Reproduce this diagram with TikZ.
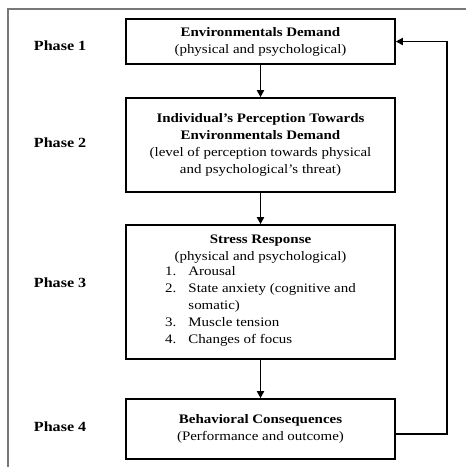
\documentclass[tikz,border=0pt]{standalone}
\usepackage{fontspec}
\setmainfont{Liberation Serif}[FakeStretch=1.15]
\usetikzlibrary{arrows.meta}

\begin{document}
\begin{tikzpicture}[x=1pt,y=1pt,yscale=-1,xscale=1,
  phasebox/.style={draw, line width=1.6pt, inner sep=0pt, minimum width=269pt, align=center, font=\fontsize{13}{17}\selectfont},
  phaselabel/.style={anchor=west, inner sep=0.75pt, font=\bfseries\fontsize{14}{17}\selectfont},
  flow/.style={line width=1.7pt, -{Triangle[length=7pt,width=7pt]}}]
\useasboundingbox (0,0) rectangle (466,467);

%Straight Lines [outer frame]
\draw [color={rgb, 255:red, 120; green, 120; blue, 120 }, line width=1.4pt] (8,467) -- (8,9) -- (466,9) ;

%Shape: Rectangle [phase boxes]
\node [phasebox, minimum height=45pt] (demand) at (260.5,41.5) {\textbf{Environmentals Demand}\\(physical and psychological)};
\node [phasebox, minimum height=94pt] (perception) at (260.5,145) {\textbf{Individual's Perception Towards}\\\textbf{Environmentals Demand}\\(level of perception towards physical\\and psychological's threat)};
\node [phasebox, minimum height=134pt] (stress) at (260.5,292) {\textbf{Stress Response}\\(physical and psychological)\\[-1pt]
  \begin{tabular}{@{}r@{\hspace{12pt}}l@{}}
  1. & Arousal\\
  2. & State anxiety (cognitive and\\
     & somatic)\\
  3. & Muscle tension\\
  4. & Changes of focus
  \end{tabular}};
\node [phasebox, minimum height=60pt] (behavior) at (260.5,429) {\textbf{Behavioral Consequences}\\(Performance and outcome)};

%Straight Lines [flow]
\draw [flow] (demand) -- (perception) ;
\draw [flow] (perception) -- (stress) ;
\draw [flow] (stress) -- (behavior) ;
%Straight Lines [feedback]
\coordinate (back) at (447,434);
\draw [flow] (behavior.east |- back) -- (back) |- (demand.east) ;

% Text Node
\node [phaselabel] (p1) at (33,46) {Phase 1};
% Text Node
\node [phaselabel] (p2) at (33,143) {Phase 2};
% Text Node
\node [phaselabel] (p3) at (33,283) {Phase 3};
% Text Node
\node [phaselabel] (p4) at (33,427) {Phase 4};

\end{tikzpicture}
\end{document}
